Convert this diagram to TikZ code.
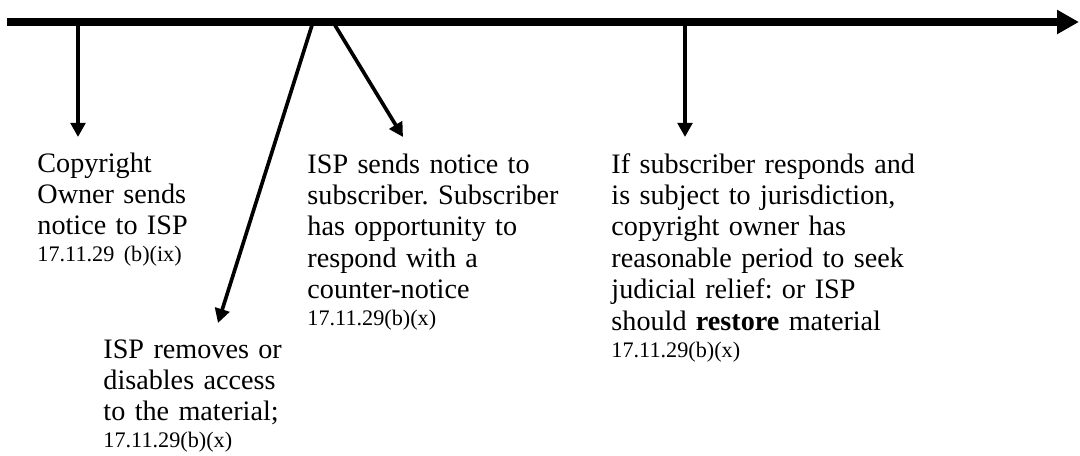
\documentclass[tikz,border=0pt]{standalone}
\usepackage{fontspec}
\setmainfont{Liberation Serif}
\usepackage{tikz}
\usetikzlibrary{arrows.meta}
\frenchspacing
\newcommand{\secref}[1]{{\fontsize{9.7pt}{10pt}\selectfont #1}}

\begin{document}
\begin{tikzpicture}[
x=0.4367pt, y=-0.4367pt,
timeline/.style={line width=3.5pt, -{Triangle[length=9.6pt,width=10pt]}},
event/.style={line width=1.6pt, -{Triangle[length=6.2pt,width=6.4pt]}},
note/.style={
anchor=base west,
inner sep=0pt,
align=left,
text width=160pt,
font=\fontsize{12.3pt}{13.75pt}\selectfont
}
]
\useasboundingbox (0,0) rectangle (1080,455);

\coordinate (start) at (7,22);
\coordinate (finish) at (1079,22);

\coordinate (sendat) at (78,22);
\coordinate (sendtip) at (78,137);
\coordinate (removeat) at (313,22);
\coordinate (removetip) at (218,323);
\coordinate (forwardat) at (333,22);
\coordinate (forwardtip) at (403,137);
\coordinate (restoreat) at (685,22);
\coordinate (restoretip) at (685,137);

\node[note] (owner) at (37,172)
{Copyright\\Owner sends\\notice to ISP\\[-1.95pt]\secref{17.11.29 (b)(ix)}};

\node[note] (remove) at (103,358)
{ISP removes or\\disables access\\to the material;\\[-1.95pt]\secref{17.11.29(b)(x)}};

\node[note] (counter) at (307,173)
{ISP sends notice to\\subscriber. Subscriber\\has opportunity to\\respond with a\\counter-notice\\[-1.95pt]\secref{17.11.29(b)(x)}};

\node[note] (restore) at (611,173)
{If subscriber responds and\\is subject to jurisdiction,\\copyright owner has\\reasonable period to seek\\judicial relief: or ISP\\should \textbf{restore} material\\[-1.95pt]\secref{17.11.29(b)(x)}};

\draw[event] (sendat) -- (sendtip);
\draw[event] (removeat) -- (removetip);
\draw[event] (forwardat) -- (forwardtip);
\draw[event] (restoreat) -- (restoretip);

\draw[timeline] (start) -- (finish);
\end{tikzpicture}
\end{document}
